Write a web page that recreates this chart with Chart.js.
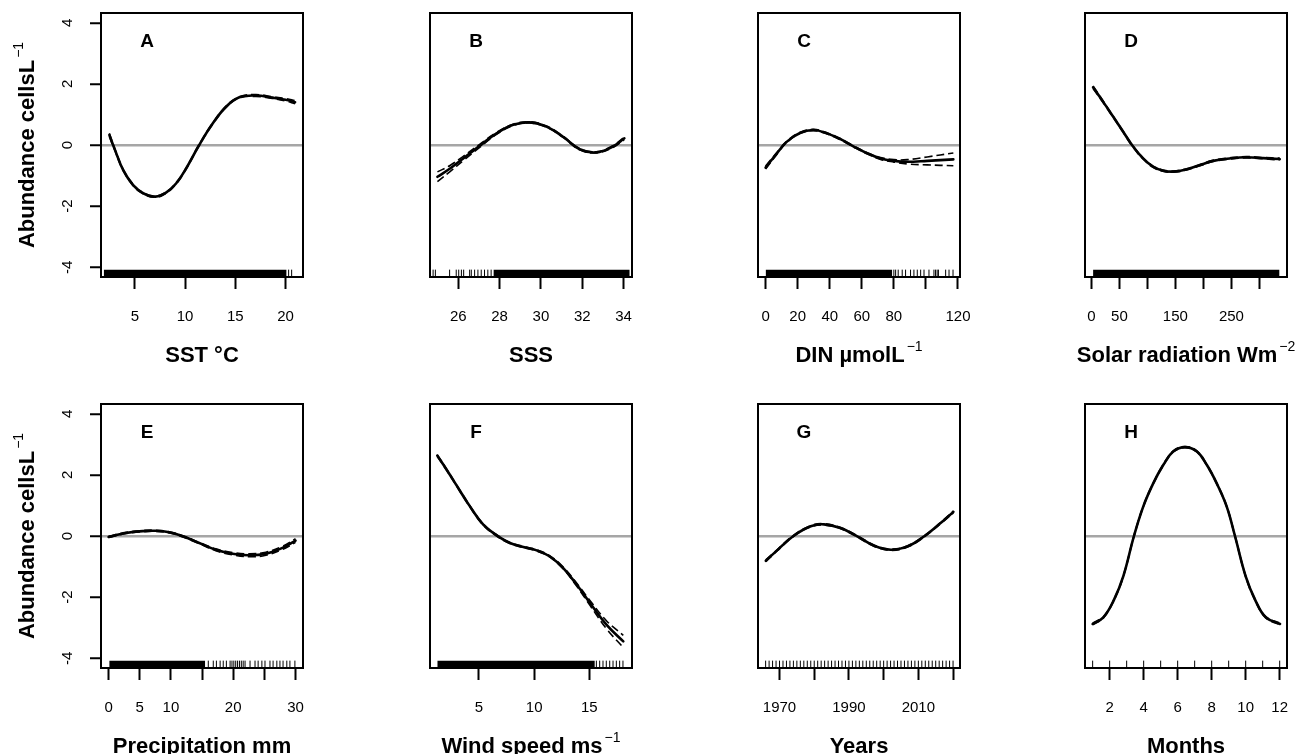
<!DOCTYPE html>
<html>
<head>
<meta charset="utf-8">
<script src="https://cdn.jsdelivr.net/npm/chart.js@4.4.1/dist/chart.umd.min.js"></script>
<style>
  html, body { margin: 0; padding: 0; background: #fff; overflow: hidden; }
  body { width: 1307px; height: 754px; position: relative; }
  canvas { position: absolute; }
</style>
</head>
<body>
<canvas id="pA"></canvas>
<canvas id="pB"></canvas>
<canvas id="pC"></canvas>
<canvas id="pD"></canvas>
<canvas id="pE"></canvas>
<canvas id="pF"></canvas>
<canvas id="pG"></canvas>
<canvas id="pH"></canvas>
<script>
// A - SST
var sstX = [2.46, 3.02, 3.84, 4.83, 5.83, 7.05, 8.1, 9.1, 10.1, 11.4, 12.76, 14.1, 15.4, 17.05, 18.7, 20.0, 20.94];
var sstFit = [0.33, -0.16, -0.82, -1.31, -1.58, -1.69, -1.56, -1.26, -0.77, 0, 0.71, 1.26, 1.56, 1.62, 1.55, 1.48, 1.40];
var sstSe = [0.05, 0.03, 0.02, 0.02, 0.02, 0.02, 0.02, 0.02, 0.02, 0.02, 0.02, 0.02, 0.02, 0.03, 0.03, 0.04, 0.05];
var sstRugBand = [1.9, 20.1];
var sstRug = [20.3, 20.6];

// B - SSS
var sssX = [24.99, 25.6, 26.24, 27.05, 27.85, 28.66, 29.46, 30.27, 31.07, 31.88, 32.68, 33.49, 34.04];
var sssFit = [-1.04, -0.77, -0.44, -0.02, 0.38, 0.66, 0.74, 0.6, 0.27, -0.14, -0.24, -0.05, 0.22];
var sssSe = [0.16, 0.1, 0.07, 0.05, 0.03, 0.02, 0.02, 0.02, 0.02, 0.02, 0.02, 0.03, 0.04];
var sssRugBand = [27.7, 34.3];
var sssRug = [24.78, 24.89, 25.58, 25.9, 26.02, 26.15, 26.26, 26.55, 26.63, 26.79, 26.95, 27.11, 27.27, 27.43, 27.59];

// C - DIN
var dinX = [0, 7.1, 13.3, 21.7, 30, 38.3, 46.7, 55, 63.3, 71.7, 80, 88.3, 100.8, 117.1];
var dinFit = [-0.74, -0.27, 0.11, 0.40, 0.49, 0.38, 0.19, -0.05, -0.27, -0.44, -0.52, -0.55, -0.52, -0.47];
var dinSe = [0.05, 0.03, 0.02, 0.02, 0.02, 0.02, 0.02, 0.02, 0.02, 0.03, 0.04, 0.07, 0.13, 0.21];
var dinRugBand = [0, 79];
var dinRug = [80, 81.1, 82.7, 85.2, 87.3, 90.4, 92.5, 94.6, 96.7, 98.8, 101.9, 105, 106, 107, 107.8, 112.3, 114.4, 116.9];

// D - solar radiation
var solX = [3, 20.8, 38.7, 56.5, 74.4, 92.3, 110, 128, 145.8, 169.6, 193.5, 217.3, 247, 276.8, 306.5, 336.3];
var solFit = [1.89, 1.42, 0.93, 0.44, -0.05, -0.44, -0.71, -0.84, -0.87, -0.8, -0.66, -0.52, -0.44, -0.40, -0.43, -0.46];
var solSe = [0.04, 0.03, 0.02, 0.02, 0.02, 0.02, 0.02, 0.02, 0.02, 0.02, 0.02, 0.02, 0.02, 0.02, 0.02, 0.03];
var solRugBand = [3, 336];
var solRug = [];

// E - precipitation
var preX = [0, 2.8, 5.46, 7.6, 9.74, 11.9, 14.55, 17.2, 19.9, 22.6, 25.25, 27.9, 30];
var preFit = [-0.03, 0.1, 0.16, 0.17, 0.12, -0.01, -0.23, -0.45, -0.58, -0.63, -0.58, -0.39, -0.15];
var preSe = [0.02, 0.02, 0.02, 0.02, 0.02, 0.02, 0.02, 0.03, 0.04, 0.05, 0.05, 0.05, 0.06];
var preRugBand = [0.1, 15.5];
var preRug = [16.0, 16.8, 17.3, 17.9, 18.4, 18.9, 19.5, 19.8, 20.1, 20.4, 20.7, 21.0, 21.3, 21.6, 21.9,
  22.7, 23.5, 24.0, 24.6, 25.1, 25.9, 26.4, 27.0, 27.5, 28.0, 28.6, 29.1, 29.9];

// F - wind speed
var windX = [1.22, 2.07, 2.98, 4.18, 5.39, 6.6, 7.81, 9.02, 10.23, 11.43, 12.64, 13.85, 15.06, 16.57, 18.08];
var windFit = [2.63, 2.17, 1.65, 0.97, 0.37, 0.02, -0.23, -0.36, -0.47, -0.67, -1.05, -1.59, -2.19, -2.91, -3.45];
var windSe = [0.03, 0.02, 0.02, 0.02, 0.02, 0.02, 0.02, 0.02, 0.02, 0.02, 0.03, 0.05, 0.08, 0.13, 0.2];
var windRugBand = [1.22, 15.5];
var windRug = [15.64, 15.94, 16.24, 16.54, 16.85, 17.15, 17.45, 17.75, 18.05];

// G - years
var yearX = [1966.05, 1969.3, 1974.1, 1979, 1982.8, 1987.6, 1992.4, 1997.3, 2002.1, 2006.9, 2011.7, 2016.5, 2020.1];
var yearFit = [-0.81, -0.47, 0.01, 0.32, 0.38, 0.26, -0.01, -0.32, -0.45, -0.34, -0.01, 0.43, 0.79];
var yearSe = [0.03, 0.02, 0.02, 0.02, 0.02, 0.02, 0.02, 0.02, 0.02, 0.02, 0.02, 0.02, 0.03];
var yearRug = [1966, 1967, 1968, 1969, 1970, 1971, 1972, 1973, 1974, 1975, 1976, 1977, 1978, 1979,
  1980, 1981, 1982, 1983, 1984, 1985, 1986, 1987, 1988, 1989, 1990, 1991, 1992, 1993, 1994, 1995,
  1996, 1997, 1998, 1999, 2000, 2001, 2002, 2003, 2004, 2005, 2006, 2007, 2008, 2009, 2010, 2011,
  2012, 2013, 2014, 2015, 2016, 2017, 2018, 2019, 2020];

// H - months
var monX = [1, 1.63, 2.22, 2.8, 3.43, 3.98, 4.57, 5.16, 5.75, 6.43, 7.12, 7.71, 8.29, 8.88, 9.37, 10.0, 10.59, 11.18, 12.02];
var monFit = [-2.88, -2.66, -2.13, -1.32, 0, 0.97, 1.73, 2.33, 2.77, 2.91, 2.77, 2.33, 1.73, 0.97, 0, -1.32, -2.13, -2.66, -2.88];
var monSe = [0.03, 0.02, 0.02, 0.02, 0.02, 0.02, 0.02, 0.02, 0.02, 0.02, 0.02, 0.02, 0.02, 0.02, 0.02, 0.02, 0.02, 0.02, 0.03];
var monRug = [1, 2, 3, 4, 5, 6, 7, 8, 9, 10, 11, 12];

var yTicks = [-4, -2, 0, 2, 4];

var FONT = '"Liberation Sans", Arial, Helvetica, sans-serif';
var RUG_TOP = -4.08;
var Y_MIN = -4.32, Y_MAX = 4.32;

var panels = [
    { id: 'pA', left: 0, top: 0, letter: 'A', title: 'SST \u00b0C', sup: '', yAxis: true,
      x: sstX, fit: sstFit, se: sstSe, band: sstRugBand, rug: sstRug,
      xMin: 1.63, xMax: 21.73, ticks: [5, 10, 15, 20], labels: [5, 10, 15, 20] },
    { id: 'pB', left: 329, top: 0, letter: 'B', title: 'SSS', sup: '', yAxis: false,
      x: sssX, fit: sssFit, se: sssSe, band: sssRugBand, rug: sssRug,
      xMin: 24.63, xMax: 34.41, ticks: [26, 28, 30, 32, 34], labels: [26, 28, 30, 32, 34] },
    { id: 'pC', left: 657, top: 0, letter: 'C', title: 'DIN \u00b5molL', sup: '\u22121', yAxis: false,
      x: dinX, fit: dinFit, se: dinSe, band: dinRugBand, rug: dinRug,
      xMin: -4.75, xMax: 121.25, ticks: [0, 20, 40, 60, 80, 100, 120], labels: [0, 20, 40, 60, 80, 120] },
    { id: 'pD', left: 984, top: 0, letter: 'D', title: 'Solar radiation Wm', sup: '\u22122', yAxis: false,
      x: solX, fit: solFit, se: solSe, band: solRugBand, rug: solRug,
      xMin: -11.4, xMax: 349.3, ticks: [0, 50, 100, 150, 200, 250, 300], labels: [0, 50, 150, 250] },
    { id: 'pE', left: 0, top: 391, letter: 'E', title: 'Precipitation mm', sup: '', yAxis: true,
      x: preX, fit: preFit, se: preSe, band: preRugBand, rug: preRug,
      xMin: -1.22, xMax: 31.2, ticks: [0, 5, 10, 15, 20, 25, 30], labels: [0, 5, 10, 20, 30] },
    { id: 'pF', left: 329, top: 391, letter: 'F', title: 'Wind speed ms', sup: '\u22121', yAxis: false,
      x: windX, fit: windFit, se: windSe, band: windRugBand, rug: windRug,
      xMin: 0.56, xMax: 18.87, ticks: [5, 10, 15], labels: [5, 10, 15] },
    { id: 'pG', left: 657, top: 391, letter: 'G', title: 'Years', sup: '', yAxis: false,
      x: yearX, fit: yearFit, se: yearSe, band: null, rug: yearRug,
      xMin: 1963.8, xMax: 2022.0, ticks: [1970, 1980, 1990, 2000, 2010, 2020], labels: [1970, 1990, 2010] },
    { id: 'pH', left: 984, top: 391, letter: 'H', title: 'Months', sup: '', yAxis: false,
      x: monX, fit: monFit, se: monSe, band: null, rug: monRug,
      xMin: 0.55, xMax: 12.43, ticks: [2, 4, 6, 8, 10, 12], labels: [2, 4, 6, 8, 10, 12] }
];

function drawLabel(ctx, main, sup, cx, cy, vertical) {
    var mainFont = 'bold 22px ' + FONT;
    var supFont = '14px ' + FONT;
    ctx.font = mainFont;
    var w1 = ctx.measureText(main).width;
    ctx.font = supFont;
    var w2 = sup ? ctx.measureText(sup).width + 2 : 0;
    ctx.save();
    ctx.translate(cx, cy);
    if (vertical) ctx.rotate(-Math.PI / 2);
    ctx.textAlign = 'left';
    ctx.textBaseline = 'alphabetic';
    var x0 = -(w1 + w2) / 2;
    ctx.font = mainFont;
    ctx.fillText(main, x0, 0);
    if (sup) {
        ctx.font = supFont;
        ctx.fillText(sup, x0 + w1 + 2, -11);
    }
    ctx.restore();
}

var panelDecor = {
    id: 'panelDecor',
    afterDraw: function (chart, args, opts) {
        var ctx = chart.ctx;
        var a = chart.chartArea;
        ctx.save();
        ctx.strokeStyle = '#000';
        ctx.lineWidth = 2;
        ctx.strokeRect(a.left, a.top, a.right - a.left, a.bottom - a.top);

        ctx.fillStyle = '#000';
        ctx.font = 'bold 19px ' + FONT;
        ctx.textAlign = 'center';
        ctx.textBaseline = 'alphabetic';
        ctx.fillText(opts.letter, a.left + 46, a.top + 34);

        drawLabel(ctx, opts.title, opts.sup, (a.left + a.right) / 2, a.bottom + 85, false);

        if (opts.yAxis) {
            var ys = chart.scales.y;
            ctx.font = '15px ' + FONT;
            ys.ticks.forEach(function (t) {
                ctx.save();
                ctx.translate(a.left - 29, ys.getPixelForValue(t.value));
                ctx.rotate(-Math.PI / 2);
                ctx.textAlign = 'center';
                ctx.fillText(String(t.value), 0, 0);
                ctx.restore();
            });
            drawLabel(ctx, 'Abundance cellsL', '\u22121', 34, (a.top + a.bottom) / 2, true);
        }
        ctx.restore();
    }
};

function makePanel(p) {
    var cv = document.getElementById(p.id);
    cv.width = 335;
    cv.height = 372;
    cv.style.left = p.left + 'px';
    cv.style.top = p.top + 'px';

    var fitPts = p.x.map(function (v, i) { return { x: v, y: p.fit[i] }; });
    var upPts = p.x.map(function (v, i) { return { x: v, y: p.fit[i] + p.se[i] }; });
    var loPts = p.x.map(function (v, i) { return { x: v, y: p.fit[i] - p.se[i] }; });
    var rugPts = p.rug.map(function (v) { return { x: v, y: (RUG_TOP + Y_MIN) / 2 }; });

    var datasets = [];
    if (p.band) {
        datasets.push({
            data: [{ x: p.band[0], y: RUG_TOP }, { x: p.band[1], y: RUG_TOP }],
            showLine: true, fill: 'start', backgroundColor: '#000',
            borderWidth: 0, pointRadius: 0
        });
    }
    datasets.push({
        data: rugPts, showLine: false,
        pointStyle: 'line', pointRotation: 90, pointRadius: 3.7,
        pointBorderWidth: 1, borderColor: '#000', pointBorderColor: '#000'
    });
    [upPts, loPts].forEach(function (pts) {
        datasets.push({
            data: pts, showLine: true, borderColor: '#000', borderWidth: 1.6,
            borderDash: [8, 4], pointRadius: 0, tension: 0.4
        });
    });
    datasets.push({
        data: fitPts, showLine: true, borderColor: '#000', borderWidth: 2.6,
        pointRadius: 0, tension: 0.4, borderCapStyle: 'round', borderJoinStyle: 'round'
    });

    new Chart(cv, {
        type: 'scatter',
        data: { datasets: datasets },
        plugins: [panelDecor],
        options: {
            responsive: false,
            animation: false,
            events: [],
            layout: { padding: { left: 0, top: 13, right: 32, bottom: 0 } },
            plugins: {
                legend: { display: false },
                tooltip: { enabled: false },
                panelDecor: { letter: p.letter, title: p.title, sup: p.sup, yAxis: p.yAxis }
            },
            scales: {
                x: {
                    type: 'linear', position: 'bottom', min: p.xMin, max: p.xMax,
                    afterBuildTicks: function (s) { s.ticks = p.ticks.map(function (v) { return { value: v }; }); },
                    afterFit: function (s) { s.height = 95; },
                    border: { display: false },
                    grid: { drawOnChartArea: false, drawTicks: true, tickLength: 12, tickWidth: 2, tickColor: '#000' },
                    ticks: {
                        autoSkip: false, maxRotation: 0, minRotation: 0, padding: 19, color: '#000',
                        font: { family: FONT, size: 15 },
                        callback: function (v) { return p.labels.indexOf(v) >= 0 ? String(v) : ''; }
                    }
                },
                y: {
                    type: 'linear', position: 'left', min: Y_MIN, max: Y_MAX,
                    afterBuildTicks: function (s) { s.ticks = yTicks.map(function (v) { return { value: v }; }); },
                    afterFit: function (s) { s.width = 101; },
                    border: { display: false },
                    ticks: { display: false },
                    grid: {
                        drawOnChartArea: true, drawTicks: p.yAxis, tickLength: 11, tickWidth: 2, tickColor: '#000',
                        lineWidth: 2.5,
                        color: function (c) { return c.tick && c.tick.value === 0 ? '#a6a6a6' : 'rgba(0,0,0,0)'; }
                    }
                }
            }
        }
    });
}

panels.forEach(makePanel);
</script>
</body>
</html>
